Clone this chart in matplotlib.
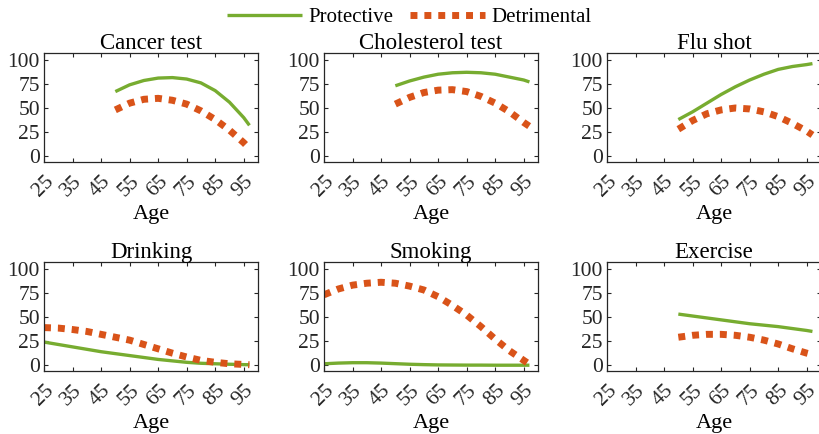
import matplotlib
matplotlib.use("Agg")
import matplotlib.pyplot as plt

plt.rcParams['font.family'] = ['Liberation Serif', 'DejaVu Serif']
plt.rcParams['font.size'] = 15

GREEN = '#77AC30'
ORANGE = '#D95319'

titles = ['Cancer test', 'Cholesterol test', 'Flu shot', 'Drinking', 'Smoking', 'Exercise']
xticks = [25, 35, 45, 55, 65, 75, 85, 95]

# age grids
age_old = [50, 55, 60, 65, 70, 75, 80, 85, 90, 95, 97]
age_all = [25, 30, 35, 40, 45, 50, 55, 60, 65, 70, 75, 80, 85, 90, 95, 97]

# percentages
cancer_prot = [67, 74, 78.5, 81, 81.5, 80, 76, 68, 56, 40, 32]
cancer_detr = [48, 55, 59, 60, 58, 54, 47, 38, 27, 14, 8]
chol_prot = [73, 78, 82, 85, 86.5, 87, 86.5, 85, 82, 79, 77]
chol_detr = [54, 61, 66, 68.5, 69, 67, 62, 55, 46, 35, 31]
flu_prot = [38, 46, 55, 64, 72, 79, 85, 90, 93, 95, 96]
flu_detr = [28, 37, 44, 48, 50, 49, 46, 41, 34, 26, 22]
drink_prot = [24, 21.5, 19, 16.5, 14, 12, 10, 8, 6, 4.5, 3, 2, 1.5, 1, 0.6, 0.5]
drink_detr = [39, 38.5, 37, 35, 32, 29, 26, 21.5, 17, 12.5, 8.5, 5, 3, 1.5, 0.8, 0.5]
smoke_prot = [1.5, 2.2, 2.6, 2.6, 2.2, 1.6, 1.0, 0.6, 0.3, 0.2, 0.1, 0.1, 0, 0, 0, 0]
smoke_detr = [73, 79, 83, 85, 86, 85, 82, 78, 71, 62, 52, 40, 27, 15, 5, 1]
exer_prot = [53, 51, 49, 47, 45, 43, 41.5, 40, 38, 36, 35]
exer_detr = [29, 31, 32, 32, 31, 29, 26, 22, 17, 12.5, 11]

series = [
    (age_old, cancer_prot, cancer_detr),
    (age_old, chol_prot, chol_detr),
    (age_old, flu_prot, flu_detr),
    (age_all, drink_prot, drink_detr),
    (age_all, smoke_prot, smoke_detr),
    (age_old, exer_prot, exer_detr),
]

W, H = 819, 434
fig = plt.figure(figsize=(W / 100, H / 100), dpi=100)

lefts = [44, 324, 607]
tops = [53, 262]
aw, ah = 214, 109

for i, (x, p, d) in enumerate(series):
    r, c = divmod(i, 3)
    ax = fig.add_axes([lefts[c] / W, 1 - (tops[r] + ah) / H, aw / W, ah / H])
    lp, = ax.plot(x, p, color=GREEN, lw=2.4, solid_capstyle='butt', label='Protective')
    ld, = ax.plot(x, d, color=ORANGE, lw=5, dashes=(1, 1), dash_capstyle='butt', label='Detrimental')
    ax.set_xlim(25, 100)
    ax.set_ylim(-6, 107)
    ax.set_xticks(xticks)
    ax.set_xticklabels([str(t) for t in xticks], rotation=45, ha='right', va='top',
                       rotation_mode='anchor')
    ax.set_yticks([0, 25, 50, 75, 100])
    ax.tick_params(direction='in', top=True, right=True, length=3, width=0.8,
                   colors='#262626', labelsize=15.5)
    ax.tick_params(axis='x', pad=7)
    ax.tick_params(axis='y', pad=3)
    for s in ax.spines.values():
        s.set_color('#262626')
        s.set_linewidth(0.9)
    ax.set_title(titles[i], fontsize=16.5, pad=3)
    ax.set_xlabel('Age', fontsize=16, labelpad=3)

fig.legend([lp, ld], ['Protective', 'Detrimental'], loc='upper center', ncol=2,
           bbox_to_anchor=(0.5, 1.025), frameon=False, handlelength=3.6,
           columnspacing=0.8, handletextpad=0.3, fontsize=15)

fig.savefig('out.png', dpi=100)
